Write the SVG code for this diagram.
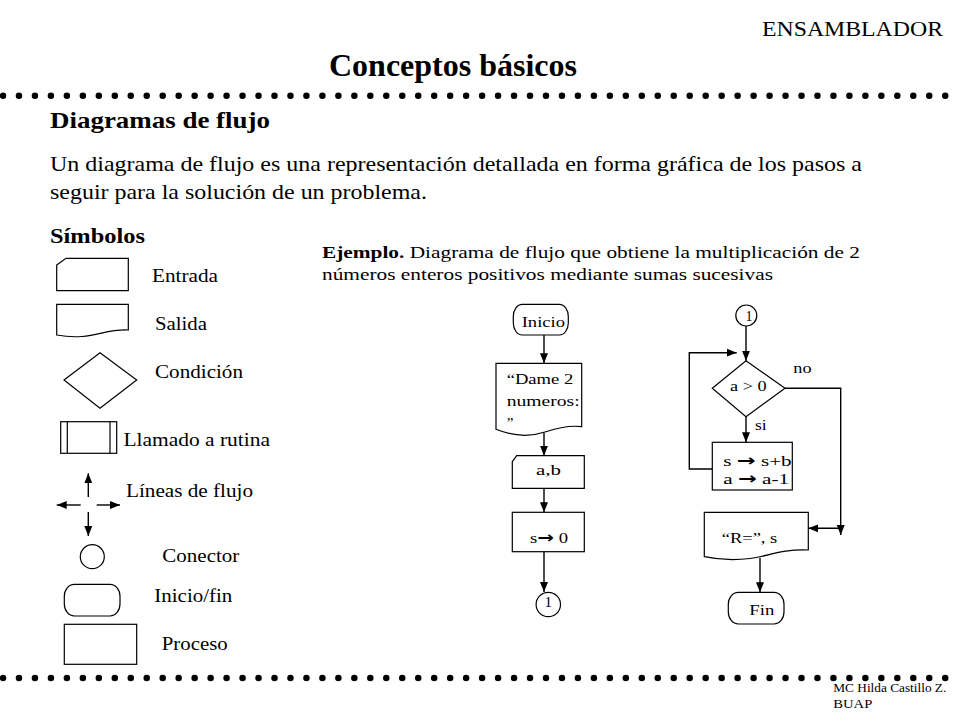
<svg xmlns="http://www.w3.org/2000/svg" width="960" height="720" viewBox="0 0 960 720" font-family="'Liberation Serif', 'Times New Roman', serif">
<defs>
<style>
.b{font-weight:bold}
.lbl{font-size:19px}
.fc{font-size:15px}
.shape{fill:#fff;stroke:#000;stroke-width:1.2}
.flow{fill:none;stroke:#000;stroke-width:1.4}
.dots{fill:none;stroke:#000;stroke-width:6.5;stroke-linecap:round;stroke-dasharray:0 15.97}
</style>
<marker id="ah" markerUnits="userSpaceOnUse" markerWidth="10" markerHeight="10" viewBox="0 0 10 10" refX="10" refY="5" orient="auto">
<path d="M0,1 L10,5 L0,9 Z" fill="#000"/>
</marker>
</defs>
<rect width="960" height="720" fill="#fff"/>

<!-- header -->
<text x="762" y="36" font-size="22" textLength="181" lengthAdjust="spacingAndGlyphs">ENSAMBLADOR</text>
<text x="329" y="76" font-size="31" class="b" textLength="248" lengthAdjust="spacingAndGlyphs">Conceptos básicos</text>
<line class="dots" x1="3" y1="95.7" x2="946" y2="95.7"/>
<text x="50" y="128" font-size="24" class="b" textLength="220" lengthAdjust="spacingAndGlyphs">Diagramas de flujo</text>
<text x="50" y="171" font-size="22" textLength="812" lengthAdjust="spacingAndGlyphs">Un diagrama de flujo es una representación detallada en forma gráfica de los pasos a</text>
<text x="50" y="199" font-size="22" textLength="377" lengthAdjust="spacingAndGlyphs">seguir para la solución de un problema.</text>
<text x="50" y="243" font-size="21" class="b" textLength="95" lengthAdjust="spacingAndGlyphs">Símbolos</text>
<text x="322" y="258" font-size="17" textLength="538" lengthAdjust="spacingAndGlyphs"><tspan class="b">Ejemplo.</tspan> Diagrama de flujo que obtiene la multiplicación de 2</text>
<text x="322" y="280" font-size="17" textLength="451" lengthAdjust="spacingAndGlyphs">números enteros positivos mediante sumas sucesivas</text>

<!-- symbols legend -->
<g id="sym-entrada">
<path class="shape" d="M56.7,265 L66,258.3 H128.3 V290.7 H56.7 Z"/>
<text class="lbl" x="152" y="282" textLength="66" lengthAdjust="spacingAndGlyphs">Entrada</text>
</g>
<g id="sym-salida">
<path class="shape" d="M56.7,304.3 H128.3 V330 C110,329 100,335 82,336.5 C70,337.3 62,336 56.7,335 Z"/>
<text class="lbl" x="155" y="330" textLength="52" lengthAdjust="spacingAndGlyphs">Salida</text>
</g>
<g id="sym-condicion">
<path class="shape" d="M64,380 L100,352.7 L136.7,380 L100,408.3 Z"/>
<text class="lbl" x="155" y="377.7" textLength="88" lengthAdjust="spacingAndGlyphs">Condición</text>
</g>
<g id="sym-llamado">
<rect class="shape" x="60.7" y="421.7" width="56" height="31.6"/>
<line class="shape" x1="67.3" y1="421.7" x2="67.3" y2="453.3"/>
<line class="shape" x1="110" y1="421.7" x2="110" y2="453.3"/>
<text class="lbl" x="123.5" y="445.7" textLength="146.5" lengthAdjust="spacingAndGlyphs">Llamado a rutina</text>
</g>
<g id="sym-lineas">
<line class="flow" x1="88.3" y1="497" x2="88.3" y2="473.3" marker-end="url(#ah)"/>
<line class="flow" x1="88.3" y1="512" x2="88.3" y2="536" marker-end="url(#ah)"/>
<line class="flow" x1="80.7" y1="505" x2="56.7" y2="505" marker-end="url(#ah)"/>
<line class="flow" x1="96.7" y1="505" x2="120" y2="505" marker-end="url(#ah)"/>
<text class="lbl" x="126" y="497.3" textLength="127" lengthAdjust="spacingAndGlyphs">Líneas de flujo</text>
</g>
<g id="sym-conector">
<circle class="shape" cx="92.3" cy="556.7" r="12"/>
<text class="lbl" x="162.3" y="561.7" textLength="77" lengthAdjust="spacingAndGlyphs">Conector</text>
</g>
<g id="sym-iniciofin">
<rect class="shape" x="64.3" y="584.3" width="55.7" height="31.7" rx="10" ry="12"/>
<text class="lbl" x="154.3" y="601.7" textLength="78" lengthAdjust="spacingAndGlyphs">Inicio/fin</text>
</g>
<g id="sym-proceso">
<rect class="shape" x="64.3" y="624.3" width="72.4" height="40"/>
<text class="lbl" x="161.7" y="650" textLength="66" lengthAdjust="spacingAndGlyphs">Proceso</text>
</g>

<!-- connectors -->
<g id="connectors">
<line class="flow" x1="544" y1="335" x2="544" y2="363.3" marker-end="url(#ah)"/>
<line class="flow" x1="544" y1="433" x2="544" y2="455.7" marker-end="url(#ah)"/>
<line class="flow" x1="544" y1="488.3" x2="544" y2="512.3" marker-end="url(#ah)"/>
<line class="flow" x1="544" y1="551.7" x2="544" y2="592" marker-end="url(#ah)"/>
<line class="flow" x1="746" y1="326" x2="746" y2="360.7" marker-end="url(#ah)"/>
<line class="flow" x1="746" y1="416.7" x2="746" y2="442.3" marker-end="url(#ah)"/>
<polyline class="flow" points="712.3,469 689.3,469 689.3,352.7 736.7,352.7" marker-end="url(#ah)"/>
<polyline class="flow" points="785,388.3 840.7,388.3 840.7,535" marker-end="url(#ah)"/>
<line class="flow" x1="840.7" y1="528.3" x2="808.3" y2="528.3" marker-end="url(#ah)"/>
<line class="flow" x1="760" y1="558" x2="760" y2="592.3" marker-end="url(#ah)"/>
<text x="793.3" y="373.3" font-size="15" textLength="18.3" lengthAdjust="spacingAndGlyphs">no</text>
<text x="755" y="430" font-size="15" textLength="11.7" lengthAdjust="spacingAndGlyphs">si</text>
</g>

<!-- example flowchart nodes -->
<g id="n-inicio">
<rect class="shape" x="513.3" y="304.3" width="55" height="30.7" rx="9" ry="12"/>
<text class="fc" x="521.7" y="326.7" textLength="43.3" lengthAdjust="spacingAndGlyphs">Inicio</text>
</g>
<g id="n-dame">
<path class="shape" d="M496,363.3 H581.7 V426.7 C570,425 560,427 545,432 C530,437 515,437 496,429.3 Z"/>
<text class="fc" x="506.7" y="384" textLength="66.6" lengthAdjust="spacingAndGlyphs">“Dame 2</text>
<text class="fc" x="506.7" y="406" textLength="73" lengthAdjust="spacingAndGlyphs">numeros:</text>
<text class="fc" x="506.7" y="428">”</text>
</g>
<g id="n-ab">
<path class="shape" d="M512.3,461.7 L516.7,455.7 H584.3 V488.3 H512.3 Z"/>
<text class="fc" x="536" y="475" textLength="25" lengthAdjust="spacingAndGlyphs">a,b</text>
</g>
<g id="n-s0">
<rect class="shape" x="512.3" y="512.3" width="72" height="39.4"/>
<text class="fc" x="530" y="542.7" textLength="38" lengthAdjust="spacingAndGlyphs">s<tspan font-family="'DejaVu Sans', sans-serif" font-weight="bold" font-size="16">→</tspan> 0</text>
</g>
<g id="n-c1a">
<circle class="shape" cx="548.3" cy="604.5" r="12.2"/>
<text class="fc" x="548.3" y="607" text-anchor="middle">1</text>
</g>
<g id="n-c1b">
<circle class="shape" cx="746.3" cy="315.5" r="10.5"/>
<text font-size="14" x="749" y="320.5" text-anchor="middle">1</text>
</g>
<g id="n-cond">
<path class="shape" d="M712.3,388.3 L746,360.7 L785,388.3 L746,416.7 Z"/>
<text class="fc" x="730" y="390.7" textLength="36.7" lengthAdjust="spacingAndGlyphs">a &gt; 0</text>
</g>
<g id="n-loop">
<rect class="shape" x="712.3" y="442.3" width="80" height="47.7"/>
<text class="fc" x="723.3" y="466" textLength="68.3" lengthAdjust="spacingAndGlyphs">s <tspan font-family="'DejaVu Sans', sans-serif" font-weight="bold" font-size="16">→</tspan> s+b</text>
<text class="fc" x="723.3" y="484.3" textLength="65.7" lengthAdjust="spacingAndGlyphs">a <tspan font-family="'DejaVu Sans', sans-serif" font-weight="bold" font-size="16">→</tspan> a-1</text>
</g>
<g id="n-out">
<path class="shape" d="M704.3,512.3 H808.3 V550 C780,549 770,556 750,558.5 C730,561 715,559 704.3,556.7 Z"/>
<text class="fc" x="721.7" y="543.3" textLength="55.6" lengthAdjust="spacingAndGlyphs">“R=”, s</text>
</g>
<g id="n-fin">
<rect class="shape" x="728.3" y="592.3" width="55.7" height="31.7" rx="10" ry="12"/>
<text class="fc" x="749.3" y="615" textLength="25" lengthAdjust="spacingAndGlyphs">Fin</text>
</g>

<!-- footer -->
<line class="dots" x1="3" y1="678" x2="946" y2="678"/>
<text x="833.3" y="692" font-size="12" textLength="113" lengthAdjust="spacingAndGlyphs">MC Hilda Castillo Z.</text>
<text x="833.3" y="708" font-size="12" textLength="39" lengthAdjust="spacingAndGlyphs">BUAP</text>
</svg>
